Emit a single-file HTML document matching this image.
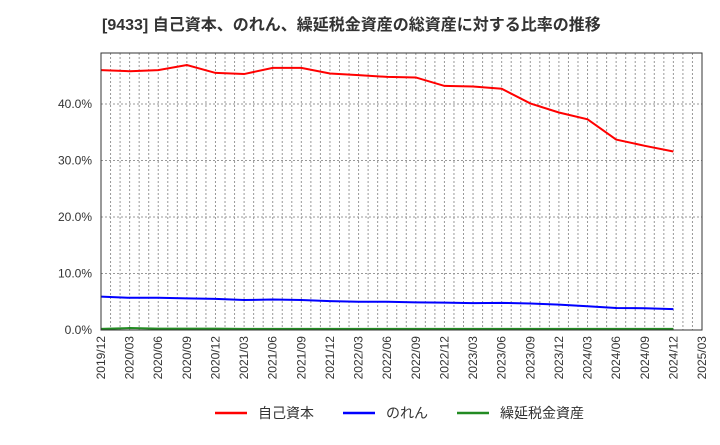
<!DOCTYPE html>
<html><head><meta charset="utf-8"><style>
body{margin:0;background:#fff;font-family:"Liberation Sans","Noto Sans CJK JP",sans-serif;}
</style></head><body>
<svg width="720" height="440" viewBox="0 0 720 440" xmlns="http://www.w3.org/2000/svg">
<text x="102" y="30" font-size="16" font-weight="bold" fill="#333" font-family="Liberation Sans, Noto Sans CJK JP, sans-serif">[9433]  自己資本、のれん、繰延税金資産の総資産に対する比率の推移</text>
<g id="grid"></g><g id="axes"></g><g id="series"></g>
<rect x="101" y="53" width="601" height="277" fill="none" stroke="#333" stroke-width="1"/>
<g id="legend" font-size="14" fill="#333">
<line x1="215" y1="413" x2="247" y2="413" stroke="#f00" stroke-width="2.5"/>
<text x="258" y="418">自己資本</text>
<line x1="343" y1="413" x2="375" y2="413" stroke="#00f" stroke-width="2.5"/>
<text x="386" y="418">のれん</text>
<line x1="457" y1="413" x2="489" y2="413" stroke="#228b22" stroke-width="2.5"/>
<text x="500" y="418">繰延税金資産</text>
</g>
</svg>
<script>
const tickLabels=["2019/12","2020/03","2020/06","2020/09","2020/12","2021/03","2021/06","2021/09","2021/12","2022/03","2022/06","2022/09","2022/12","2023/03","2023/06","2023/09","2023/12","2024/03","2024/06","2024/09","2024/12","2025/03"];
const yTicks=[0,10,20,30,40];
const equity=[46.0,45.8,46.0,46.9,45.5,45.3,46.4,46.4,45.4,45.1,44.8,44.7,43.2,43.1,42.7,40.1,38.5,37.3,33.7,32.6,31.6];
const goodwill=[5.9,5.7,5.7,5.6,5.5,5.3,5.4,5.3,5.1,5.0,5.0,4.9,4.85,4.75,4.8,4.7,4.5,4.2,3.9,3.85,3.7];
const dta=[0.2,0.35,0.25,0.25,0.25,0.2,0.2,0.2,0.2,0.2,0.2,0.2,0.2,0.2,0.2,0.2,0.2,0.2,0.2,0.2,0.2];
const NS="http://www.w3.org/2000/svg";
const X0=101,X1=702,Y0=330,YT=53;
const xq=i=>X0+(X1-X0)*i/21;
const xm=m=>X0+(X1-X0)*m/63;
const y=v=>Y0-v*5.65;
function mk(t,a,p){const e=document.createElementNS(NS,t);for(const k in a)e.setAttribute(k,a[k]);p.appendChild(e);return e;}
const grid=document.getElementById('grid'),axes=document.getElementById('axes'),ser=document.getElementById('series');
for(let m=1;m<63;m++){const l=mk('line',{x1:xm(m),x2:xm(m),y1:YT,y2:Y0,stroke:'#999','stroke-width':1,'stroke-dasharray':'2,2'},grid);

}
yTicks.forEach(v=>{if(v>0){const l=mk('line',{x1:X0,x2:X1,y1:y(v),y2:y(v),stroke:'#999','stroke-width':1,'stroke-dasharray':'2,2'},grid);

}
const t=mk('text',{x:92,y:y(v)+4,'text-anchor':'end','font-size':12,fill:'#333'},axes);t.textContent=v.toFixed(1)+'%';

});
tickLabels.forEach((s,i)=>{const t=mk('text',{transform:`translate(${xq(i)+4},336) rotate(-90)`,'text-anchor':'end','font-size':12,fill:'#333'},axes);t.textContent=s;

});
function line(d,c,n){const p=mk('polyline',{points:d.map((v,i)=>xq(i)+','+y(v)).join(' '),fill:'none',stroke:c,'stroke-width':2},ser);

}
line(dta,'#228b22','dta-line');line(goodwill,'#00f','goodwill-line');line(equity,'#f00','equity-line');
</script>
</body></html>
